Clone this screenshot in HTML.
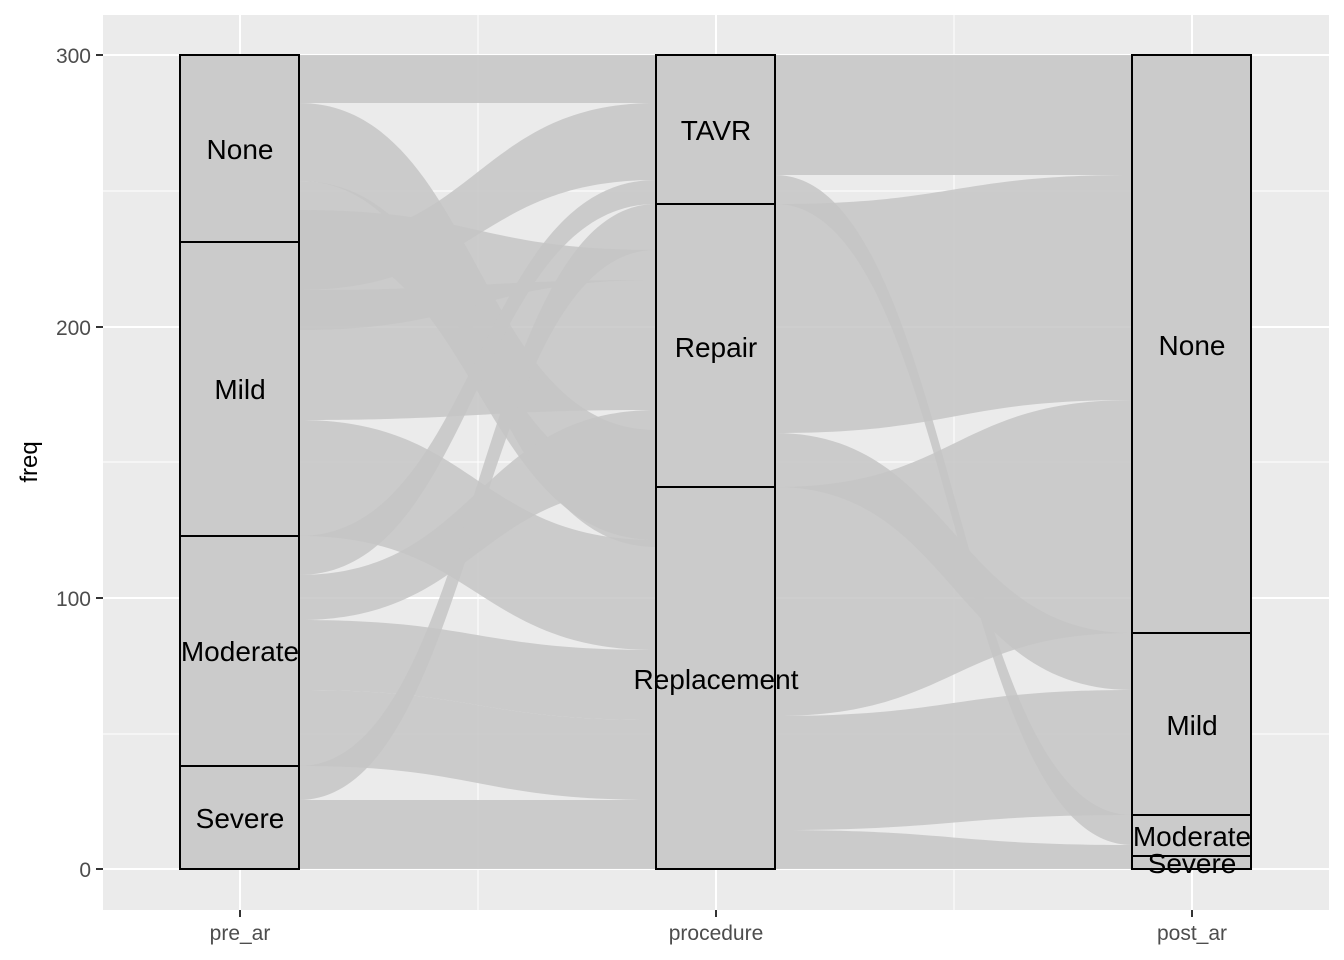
<!DOCTYPE html>
<html><head><meta charset="utf-8"><style>body{margin:0;background:#fff}svg{display:block}</style></head><body>
<svg width="1344" height="960" viewBox="0 0 1344 960" xmlns="http://www.w3.org/2000/svg" font-family="Liberation Sans, sans-serif">
<rect x="103" y="15" width="1226" height="895" fill="#ebebeb"/>
<g stroke="#fff" stroke-width="1">
<line x1="103" x2="1329" y1="191" y2="191"/><line x1="103" x2="1329" y1="462" y2="462"/><line x1="103" x2="1329" y1="734" y2="734"/>
<line x1="478" x2="478" y1="15" y2="910"/><line x1="954" x2="954" y1="15" y2="910"/>
</g>
<g stroke="#fff" stroke-width="2">
<line x1="103" x2="1329" y1="55" y2="55"/><line x1="103" x2="1329" y1="327" y2="327"/><line x1="103" x2="1329" y1="598" y2="598"/><line x1="103" x2="1329" y1="869" y2="869"/>
<line x1="240" x2="240" y1="15" y2="910"/><line x1="716" x2="716" y1="15" y2="910"/><line x1="1192" x2="1192" y1="15" y2="910"/>
</g>
<g fill="#c6c6c6" fill-opacity="0.85">
<!-- left flows: x 299 -> 656, mid 477 -->
<path d="M299 55 C477 55 477 55 656 55 L656 103 C477 103 477 103 299 103Z"/>
<path d="M299 103 C477 103 477 430 656 430 L656 547 C477 547 477 181 299 181Z"/>
<path d="M299 181 C477 181 477 487 656 487 L656 540 C477 540 477 242 299 242Z"/>
<path d="M299 242 C477 242 477 103 656 103 L656 180 C477 180 477 290 299 290Z"/>
<path d="M299 290 C477 290 477 280 656 280 L656 410 C477 410 477 420 299 420Z"/>
<path d="M299 420 C477 420 477 540 656 540 L656 650 C477 650 477 536 299 536Z"/>
<path d="M299 536 C477 536 477 180 656 180 L656 204 C477 204 477 575 299 575Z"/>
<path d="M299 575 C477 575 477 410 656 410 L656 487 C477 487 477 620 299 620Z"/>
<path d="M299 620 C477 620 477 650 656 650 L656 720 C477 720 477 690 299 690Z"/>
<path d="M299 690 C477 690 477 720 656 720 L656 800 C477 800 477 766 299 766Z"/>
<path d="M299 766 C477 766 477 204 656 204 L656 250 C477 250 477 800 299 800Z"/>
<path d="M299 800 C477 800 477 800 656 800 L656 869 C477 869 477 869 299 869Z"/>
<path d="M299 210 C477 210 477 250 656 250 L656 280 C477 280 477 330 299 330Z"/>
<!-- right flows: x 775 -> 1132, mid 954 -->
<path d="M775 55 C954 55 954 55 1132 55 L1132 175 C954 175 954 175 775 175Z"/>
<path d="M775 175 C954 175 954 815 1132 815 L1132 845 C954 845 954 204 775 204Z"/>
<path d="M775 204 C954 204 954 175 1132 175 L1132 400 C954 400 954 433 775 433Z"/>
<path d="M775 433 C954 433 954 633 1132 633 L1132 690 C954 690 954 487 775 487Z"/>
<path d="M775 487 C954 487 954 400 1132 400 L1132 633 C954 633 954 716 775 716Z"/>
<path d="M775 716 C954 716 954 690 1132 690 L1132 815 C954 815 954 830 775 830Z"/>
<path d="M775 830 C954 830 954 845 1132 845 L1132 869 C954 869 954 869 775 869Z"/>
</g>
<g fill="#cbcbcb" stroke="#000" stroke-width="2">
<rect x="180" y="55" width="119" height="187"/><rect x="180" y="242" width="119" height="294"/><rect x="180" y="536" width="119" height="230"/><rect x="180" y="766" width="119" height="103"/>
<rect x="656" y="55" width="119" height="149"/><rect x="656" y="204" width="119" height="283"/><rect x="656" y="487" width="119" height="382"/>
<rect x="1132" y="55" width="119" height="578"/><rect x="1132" y="633" width="119" height="182"/><rect x="1132" y="815" width="119" height="41"/><rect x="1132" y="856" width="119" height="13"/>
</g>
<g font-size="28" text-anchor="middle" fill="#000">
<text x="240" y="159">None</text><text x="240" y="399">Mild</text><text x="240" y="661">Moderate</text><text x="240" y="828">Severe</text>
<text x="716" y="140">TAVR</text><text x="716" y="357">Repair</text><text x="716" y="689">Replacement</text>
<text x="1192" y="355">None</text><text x="1192" y="735">Mild</text><text x="1192" y="846">Moderate</text><text x="1192" y="873">Severe</text>
</g>
<g stroke="#333" stroke-width="2">
<line x1="96" x2="103" y1="55" y2="55"/><line x1="96" x2="103" y1="327" y2="327"/><line x1="96" x2="103" y1="598" y2="598"/><line x1="96" x2="103" y1="869" y2="869"/>
<line x1="240" x2="240" y1="910" y2="917"/><line x1="716" x2="716" y1="910" y2="917"/><line x1="1192" x2="1192" y1="910" y2="917"/>
</g>
<g font-size="21" fill="#4d4d4d">
<g text-anchor="end"><text x="91" y="63">300</text><text x="91" y="335">200</text><text x="91" y="606">100</text><text x="91" y="877">0</text></g>
<g text-anchor="middle"><text x="240" y="940">pre_ar</text><text x="716" y="940">procedure</text><text x="1192" y="940">post_ar</text></g>
</g>
<text transform="translate(37,462) rotate(-90)" font-size="24" text-anchor="middle" fill="#000">freq</text>
</svg>
</body></html>
